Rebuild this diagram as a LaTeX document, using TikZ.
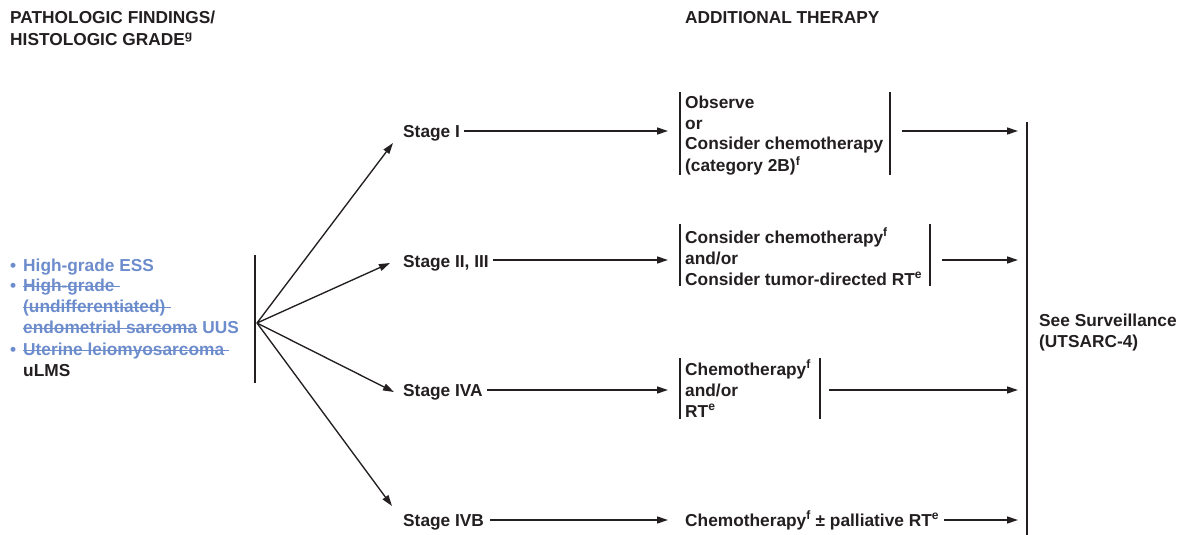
\documentclass[tikz,border=0pt]{standalone}
\usepackage{fontspec}
\setmainfont{Liberation Sans}
\usetikzlibrary{arrows.meta}
\definecolor{nccnblue}{RGB}{108,140,204}
\definecolor{ink}{RGB}{35,31,32}
\renewcommand{\arraystretch}{1}
\begin{document}
\begin{tikzpicture}[x=1pt,y=-1pt,
  txt/.style={font=\fontsize{17.3}{21}\selectfont\bfseries, text=ink, inner sep=0pt, anchor=base west},
  bl/.style={txt, text=nccnblue},
  line/.style={draw=ink, line width=1.35pt},
  strike/.style={draw=nccnblue, line width=1.3pt},
  arr/.style={line, -{Triangle[length=11pt,width=7pt]}},
]
\useasboundingbox (0,0) rectangle (1179,535);

% headers
\node[txt] (h1) at (10,24) {PATHOLOGIC FINDINGS/};
\node[txt] (h2) at (10,46) {HISTOLOGIC GRADE\textsuperscript{g}};
\node[txt] (h3) at (685,24) {ADDITIONAL THERAPY};

% left list
\node[bl] (l1b) at (10,271) {•};
\node[bl] (l1) at (23,271) {High-grade ESS};
\node[bl] (l2b) at (10,291) {•};
\node[bl] (l2) at (23,291) {High-grade};
\node[bl] (l3) at (23,312) {(undifferentiated)};
\node[bl] (l4) at (23,333) {endometrial sarcoma};
\node[bl, anchor=base west] (l4b) at ([xshift=4.8pt]l4.base east) {UUS};
\node[bl] (l5b) at (10,355) {•};
\node[bl] (l5) at (23,355) {Uterine leiomyosarcoma};
\node[txt] (l6) at (23,376) {uLMS};
\foreach \n/\e in {l2/5, l3/5, l4/0, l5/5}
  \draw[strike] ([yshift=4.8pt]\n.base west) -- ([yshift=4.8pt,xshift=\e pt]\n.base east);
\draw[line] (255,255) -- (255,383);
\coordinate (fork) at (257,323);

% stages
\node[txt] (s1) at (403,137) {Stage I};
\node[txt] (s2) at (403,267) {Stage II, III};
\node[txt] (s3) at (403,396) {Stage IVA};
\node[txt] (s4) at (403,526) {Stage IVB};
\coordinate (f1) at (393,143);
\coordinate (f2) at (390,263);
\coordinate (f3) at (394,392);
\coordinate (f4) at (392,506);
\foreach \i in {1,2,3,4} \draw[arr] (fork) -- (f\i);

% therapy boxes
\node[txt] (t1) at (685,108) {\begin{tabular}[t]{@{}l@{}}Observe\\or\\Consider chemotherapy\\(category 2B)\textsuperscript{f}\end{tabular}};
\node[txt] (t2) at (685,243) {\begin{tabular}[t]{@{}l@{}}Consider chemotherapy\textsuperscript{f}\\and/or\\Consider tumor-directed RT\textsuperscript{e}\end{tabular}};
\node[txt] (t3) at (685,375) {\begin{tabular}[t]{@{}l@{}}Chemotherapy\textsuperscript{f}\\and/or\\RT\textsuperscript{e}\end{tabular}};
\node[txt] (t4) at (685,526) {Chemotherapy\textsuperscript{f} ± palliative RT\textsuperscript{e}};

\coordinate (b1l) at (680,131); \coordinate (b1r) at (890,131);
\coordinate (b2l) at (680,260); \coordinate (b2r) at (930,260);
\coordinate (b3l) at (680,390); \coordinate (b3r) at (820,390);
\draw[line] (680,92) -- (680,175);  \draw[line] (890,92) -- (890,175);
\draw[line] (680,224) -- (680,286); \draw[line] (930,224) -- (930,286);
\draw[line] (680,358) -- (680,419); \draw[line] (820,358) -- (820,419);

% surveillance
\draw[line] (1027,122) -- (1027,535);
\coordinate (sv) at (1027,300);
\node[txt] (surv) at (1039,326) {\begin{tabular}[t]{@{}l@{}}See Surveillance\\(UTSARC-4)\end{tabular}};

% stage -> therapy
\draw[arr] ([xshift=4pt]s1.east |- b1l) -- ([xshift=-12pt]b1l);
\draw[arr] ([xshift=4pt]s2.east |- b2l) -- ([xshift=-12pt]b2l);
\draw[arr] ([xshift=4pt]s3.east |- b3l) -- ([xshift=-12pt]b3l);
\coordinate (b4) at (685,520);
\draw[arr] ([xshift=6pt]s4.east |- b4) -- ([xshift=-17pt]b4);

% therapy -> surveillance
\draw[arr] ([xshift=12pt]b1r) -- ([xshift=-9pt]b1r -| sv);
\draw[arr] ([xshift=12pt]b2r) -- ([xshift=-9pt]b2r -| sv);
\draw[arr] ([xshift=9pt]b3r) -- ([xshift=-9pt]b3r -| sv);
\draw[arr] ([xshift=5pt]t4.east |- b4) -- ([xshift=-9pt]b4 -| sv);
\end{tikzpicture}
\end{document}
